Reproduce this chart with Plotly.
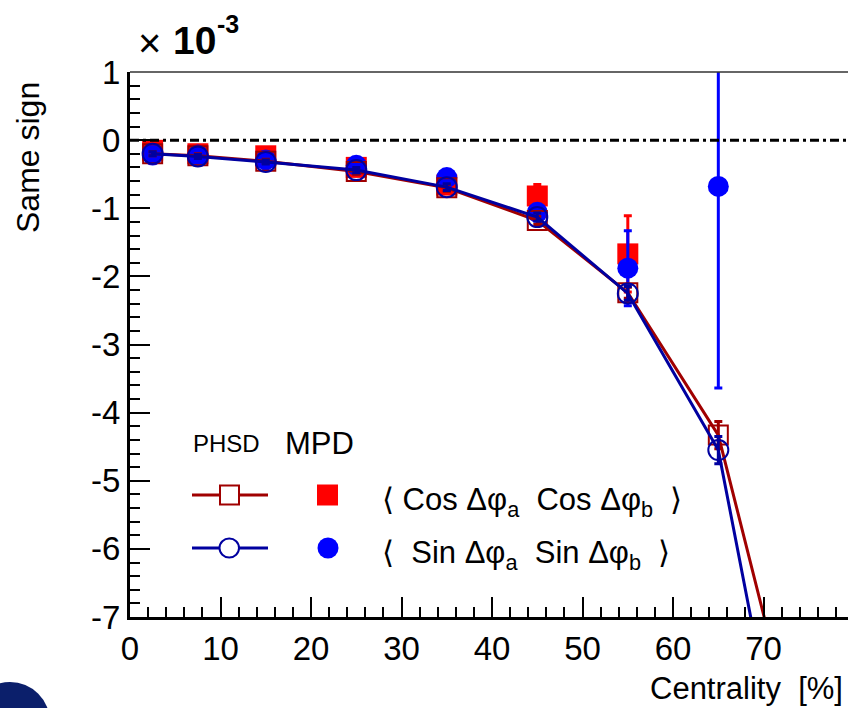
import plotly.graph_objects as go

# ---------------- data ----------------
centrality = [2.5, 7.5, 15, 25, 35, 45, 55, 65, 75]
phsd_cos = [-0.20, -0.23, -0.31, -0.46, -0.70, -1.18, -2.24, -4.33, -9.6]
phsd_cos_err = [0.03, 0.03, 0.03, 0.04, 0.05, 0.06, 0.08, 0.20, 0.40]
phsd_sin = [-0.20, -0.24, -0.32, -0.44, -0.69, -1.13, -2.25, -4.55, -11.4]
phsd_sin_err = [0.03, 0.03, 0.03, 0.04, 0.05, 0.06, 0.10, 0.20, 0.40]

mpd_cos_x = [2.5, 7.5, 15, 25, 35, 45, 55]
mpd_cos = [-0.15, -0.20, -0.23, -0.40, -0.66, -0.82, -1.67]
mpd_cos_err = [0.10, 0.08, 0.10, 0.10, 0.10, 0.17, 0.56]

mpd_sin_x = [2.5, 7.5, 15, 25, 35, 45, 55, 65]
mpd_sin = [-0.22, -0.22, -0.29, -0.37, -0.55, -1.06, -1.88, -0.68]
mpd_sin_err = [0.05, 0.05, 0.05, 0.05, 0.06, 0.08, 0.55, 2.96]

x_ticks = [0, 10, 20, 30, 40, 50, 60, 70]
y_ticks = [-7, -6, -5, -4, -3, -2, -1, 0, 1]
y_tick_labels = ["-7", "-6", "-5", "-4", "-3", "-2", "-1", "0", "1"]

# ---------------- style ----------------
W, H = 848, 708
L, R, T, B = 130, 848, 72, 617
FONT = "Liberation Sans, Arial, sans-serif"
DARKRED = "#a00000"
DARKBLUE = "#0000a0"
RED = "#ff0000"
BLUE = "#0000ff"


def px(x):
    return (x - L) / (R - L)


def py(y):
    return (B - y) / (B - T)


fig = go.Figure()

fig.add_trace(go.Scatter(
    x=mpd_cos_x, y=mpd_cos, mode="markers",
    marker=dict(symbol="square", size=21, color=RED),
    error_y=dict(type="data", array=mpd_cos_err, color=RED, thickness=3, width=4),
    showlegend=False))
fig.add_trace(go.Scatter(
    x=mpd_sin_x, y=mpd_sin, mode="markers",
    marker=dict(symbol="circle", size=21, color=BLUE),
    error_y=dict(type="data", array=mpd_sin_err, color=BLUE, thickness=3, width=4),
    showlegend=False))
fig.add_trace(go.Scatter(
    x=centrality, y=phsd_cos, mode="lines+markers",
    line=dict(color=DARKRED, width=3),
    marker=dict(symbol="square-open", size=19, color=DARKRED, line=dict(width=2, color=DARKRED)),
    error_y=dict(type="data", array=phsd_cos_err, color=DARKRED, thickness=3, width=4),
    showlegend=False))
fig.add_trace(go.Scatter(
    x=centrality, y=phsd_sin, mode="lines+markers",
    line=dict(color=DARKBLUE, width=3),
    marker=dict(symbol="circle-open", size=20, color=DARKBLUE, line=dict(width=2, color=DARKBLUE)),
    error_y=dict(type="data", array=phsd_sin_err, color=DARKBLUE, thickness=3, width=4),
    showlegend=False))

x_max = (R - L) / 9.051

shapes = [
    # zero line
    dict(type="line", xref="x", yref="y", x0=0, x1=x_max, y0=0, y1=0,
         line=dict(color="black", width=3, dash="9px,4px,3px,4px")),
    # top frame
    dict(type="line", xref="paper", yref="paper", x0=0, x1=1, y0=1, y1=1,
         line=dict(color="#333333", width=1.5)),
    # legend glyphs row 1
    dict(type="line", xref="paper", yref="paper", x0=px(192), x1=px(268), y0=py(495), y1=py(495),
         line=dict(color=DARKRED, width=3)),
    dict(type="rect", xref="paper", yref="paper", x0=px(220), x1=px(239), y0=py(504.5), y1=py(485.5),
         line=dict(color=DARKRED, width=2), fillcolor="white"),
    dict(type="rect", xref="paper", yref="paper", x0=px(317), x1=px(338), y0=py(505.5), y1=py(484.5),
         line=dict(color=RED, width=0), fillcolor=RED),
    # legend glyphs row 2
    dict(type="line", xref="paper", yref="paper", x0=px(192), x1=px(268), y0=py(548), y1=py(548),
         line=dict(color=DARKBLUE, width=3)),
    dict(type="circle", xref="paper", yref="paper", x0=px(219.5), x1=px(239), y0=py(557.5), y1=py(538.5),
         line=dict(color=DARKBLUE, width=2), fillcolor="white"),
    dict(type="circle", xref="paper", yref="paper", x0=px(317.5), x1=px(338.5), y0=py(558.5), y1=py(537.5),
         line=dict(color=BLUE, width=0), fillcolor=BLUE),
    # logo fragment in bottom-left corner
    dict(type="circle", xref="paper", yref="paper", x0=px(-30), x1=px(50), y0=py(762), y1=py(682),
         line=dict(width=0), fillcolor="#0b1f6b"),
]

annotations = [
    dict(text="Same sign", x=px(28), y=py(158), xref="paper", yref="paper", textangle=-90,
         showarrow=False, font=dict(family=FONT, size=32, color="black"),
         xanchor="center", yanchor="middle"),
    dict(text="Centrality  [%]", x=px(845), y=py(688), xref="paper", yref="paper",
         showarrow=False, font=dict(family=FONT, size=31, color="black"),
         xanchor="right", yanchor="middle"),
    dict(text="×", x=px(149), y=py(43), xref="paper", yref="paper",
         showarrow=False, font=dict(family=FONT, size=40, color="black"),
         xanchor="center", yanchor="middle"),
    dict(text="<b>10</b>", x=px(194), y=py(40), xref="paper", yref="paper",
         showarrow=False, font=dict(family=FONT, size=39, color="black"),
         xanchor="center", yanchor="middle"),
    dict(text="<b>-3</b>", x=px(228), y=py(24), xref="paper", yref="paper",
         showarrow=False, font=dict(family=FONT, size=25, color="black"),
         xanchor="center", yanchor="middle"),
    dict(text="PHSD", x=px(226), y=py(443), xref="paper", yref="paper",
         showarrow=False, font=dict(family=FONT, size=24, color="black"),
         xanchor="center", yanchor="middle"),
    dict(text="MPD", x=px(319), y=py(443), xref="paper", yref="paper",
         showarrow=False, font=dict(family=FONT, size=31, color="black"),
         xanchor="center", yanchor="middle"),
    dict(text="⟨ Cos Δφ<sub>a</sub>\u00a0 Cos Δφ<sub>b</sub>\u00a0 ⟩", x=px(380), y=py(502),
         xref="paper", yref="paper", showarrow=False,
         font=dict(family=FONT, size=31, color="black"), xanchor="left", yanchor="middle"),
    dict(text="⟨\u00a0 Sin Δφ<sub>a</sub>\u00a0 Sin Δφ<sub>b</sub>\u00a0 ⟩", x=px(380), y=py(555),
         xref="paper", yref="paper", showarrow=False,
         font=dict(family=FONT, size=31, color="black"), xanchor="left", yanchor="middle"),
]

fig.update_layout(
    width=W, height=H,
    margin=dict(l=L, r=W - R, t=T, b=H - B, pad=0),
    paper_bgcolor="white", plot_bgcolor="white",
    font=dict(family=FONT, color="black"),
    shapes=shapes, annotations=annotations,
    showlegend=False,
)

fig.update_xaxes(
    range=[0, x_max], showgrid=False, zeroline=False,
    showline=True, linecolor="black", linewidth=3,
    tickmode="array", tickvals=x_ticks, ticktext=[str(v) for v in x_ticks],
    ticks="inside", ticklen=20, tickwidth=2, tickcolor="black",
    tickfont=dict(family=FONT, size=33, color="black"),
    minor=dict(tickmode="linear", tick0=0, dtick=2, ticks="inside", ticklen=10,
               tickwidth=2, tickcolor="black", showgrid=False),
)
fig.update_yaxes(
    range=[-7, 1], showgrid=False, zeroline=False,
    showline=True, linecolor="black", linewidth=3,
    tickmode="array", tickvals=y_ticks, ticktext=y_tick_labels,
    ticks="inside", ticklen=20, tickwidth=2, tickcolor="black",
    tickfont=dict(family=FONT, size=33, color="black"),
    minor=dict(tickmode="linear", tick0=0, dtick=0.2, ticks="inside", ticklen=10,
               tickwidth=2, tickcolor="black", showgrid=False),
)

fig.write_html("out.html", config={"displayModeBar": False},
               post_script="document.body.style.margin='0';")
